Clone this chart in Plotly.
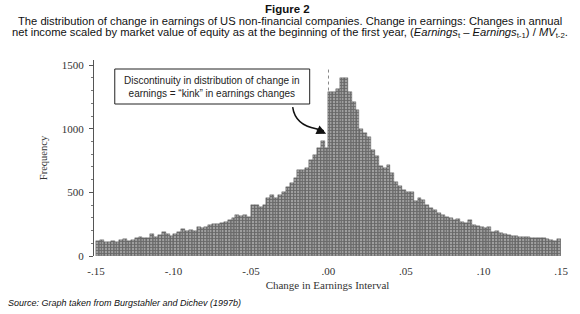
import plotly.graph_objects as go

# ---- data ----
bin_width = 0.0025
bin_start = -0.15
frequency = [
    120, 126, 113, 113, 115, 113, 126, 131, 115, 126,
    139, 152, 144, 139, 170, 152, 168, 186, 175, 157,
    170, 185, 209, 196, 204, 199, 225, 217, 225, 243,
    251, 251, 262, 270, 283, 296, 322, 314, 322, 309,
    400, 400, 387, 400, 453, 479, 453, 479, 505, 544,
    570, 610, 675, 675, 688, 754, 793, 845, 905, 845,
    1290, 1290, 1315, 1395, 1395, 1290, 1211, 1146, 995, 963,
    937, 832, 785, 710, 690, 714, 651, 585, 548, 520,
    505, 505, 430, 455, 440, 400, 378, 362, 338, 322,
    309, 296, 283, 290, 269, 257, 280, 243, 232, 230,
    217, 228, 192, 195, 180, 170, 166, 155, 155, 150,
    150, 148, 140, 140, 145, 138, 130, 126, 120, 130,
]
bin_centers = [bin_start + bin_width * (i + 0.5) for i in range(len(frequency))]
tick_vals = [-0.15, -0.10, -0.05, 0.0, 0.05, 0.10, 0.15]
tick_text = ["-.15", "-.10", "-.05", ".00", ".05", ".10", ".15"]
y_tick_vals = [0, 500, 1000, 1500]

serif = "Liberation Serif"
sans = "Liberation Sans"

fig = go.Figure()
fig.add_trace(go.Bar(
    x=bin_centers, y=frequency, width=bin_width,
    marker=dict(
        color="#a0a0a0",
        line=dict(color="#4a4a4a", width=0.4),
        pattern=dict(shape="+", fgcolor="#363636", size=3, solidity=0.5),
    ),
    showlegend=False, hoverinfo="x+y",
))

x0 = -0.15 - 2 * 0.3 / 470
fig.update_layout(
    width=580, height=314,
    margin=dict(l=94, r=14, t=60, b=58),
    paper_bgcolor="white", plot_bgcolor="white",
    bargap=0,
    xaxis=dict(
        range=[x0, 0.15], tickvals=tick_vals, ticktext=tick_text,
        showgrid=False, zeroline=False, showline=False,
        ticks="outside", ticklen=5, tickcolor="rgba(0,0,0,0)",
        tickfont=dict(family=serif, size=11, color="#333"),
        title=dict(text="Change in Earnings Interval",
                   font=dict(family=serif, size=11, color="#333"), standoff=5),
    ),
    yaxis=dict(
        range=[0, 1540], tickvals=y_tick_vals,
        showgrid=False, zeroline=False, showline=True, linecolor="#555", linewidth=1,
        ticks="outside", ticklen=4, tickcolor="#555", ticklabelstandoff=3,
        minor=dict(dtick=100, ticks="outside", ticklen=2, tickcolor="#777"),
        tickfont=dict(family=serif, size=11, color="#333"),
        title=dict(text="Frequency", font=dict(family=serif, size=10.5, color="#333"), standoff=12),
    ),
    font=dict(family=sans, color="#222"),
)

# dashed marker line at zero
fig.add_shape(type="line", xref="x", yref="y", x0=0.0, x1=0.0, y0=1300, y1=1470,
              line=dict(color="#888", width=1, dash="dot"))

# curved arrow from box to kink
fig.add_shape(type="path", xref="x", yref="y",
              path="M -0.0231,1170 Q -0.0215,1030 -0.0080,1000 L -0.0030,985",
              line=dict(color="#111", width=1.5))
fig.add_annotation(x=-0.0015, y=960, ax=-0.0085, ay=1000, xref="x", yref="y",
                   axref="x", ayref="y", text="", showarrow=True,
                   arrowhead=2, arrowsize=1.2, arrowwidth=1.6, arrowcolor="#111")

# annotation box
fig.add_shape(type="rect", xref="paper", yref="paper",
              x0=(115 - 94) / 472, x1=(312 - 94) / 472,
              y0=(256 - 104) / 196, y1=(256 - 69) / 196,
              line=dict(color="#222", width=1), fillcolor="white")
fig.add_annotation(
    xref="paper", yref="paper", x=((115 + 312) / 2 - 94) / 472, y=(256 - 86.5) / 196,
    xanchor="center", yanchor="middle",
    text="Discontinuity in distribution of change in<br>earnings = \u201ckink\u201d in earnings changes",
    showarrow=False, font=dict(family=sans, size=10, color="#222"), align="center")


# titles (paper-level text); coordinates given in reference-picture pixels
def ptext(txt, x, y, size, anchor="center"):
    fig.add_annotation(xref="paper", yref="paper",
                       x=(x - 94) / 472, y=(256 - y) / 196, text=txt, showarrow=False,
                       xanchor=anchor, yanchor="middle",
                       font=dict(family=sans, size=size, color="#111"))


ptext("<b>Figure 2</b>", 290, 9, 11.5)
ptext("The distribution of change in earnings of US non-financial companies. Change in earnings: Changes in annual",
      292, 21, 11.2)
ptext("net income scaled by market value of equity as at the beginning of the first year, "
      "(<i>Earnings</i><sub>t</sub> \u2013 <i>Earnings</i><sub>t-1</sub>) / <i>MV</i><sub>t-2</sub>.",
      292, 33, 11.2)
ptext("<i>Source: Graph taken from Burgstahler and Dichev (1997b)</i>", 5, 303, 9, anchor="left")

fig.write_html("out.html", config={"displayModeBar": False},
               post_script="document.body.style.margin='0px';")
